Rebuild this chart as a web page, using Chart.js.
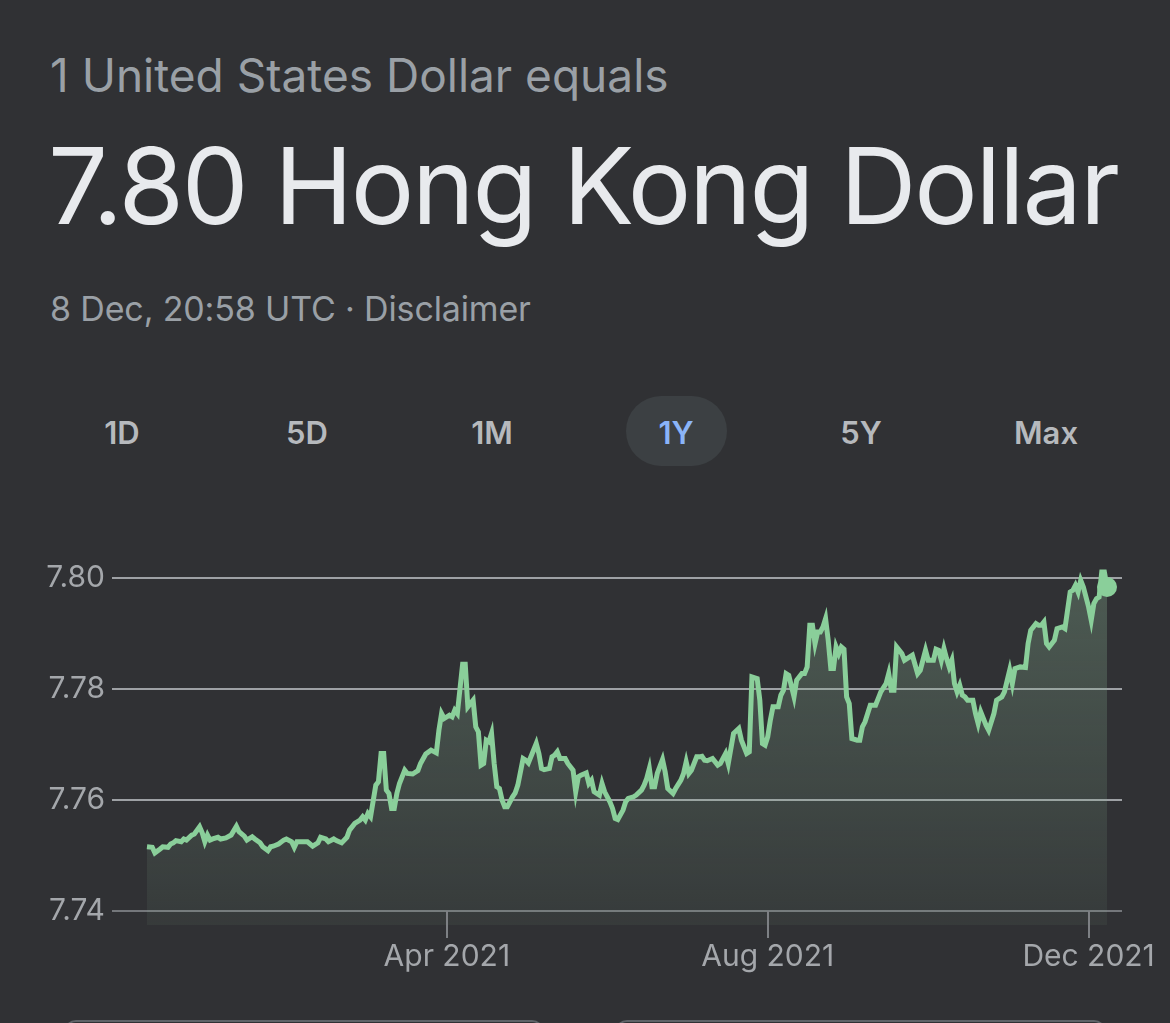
<!DOCTYPE html>
<html>
<head>
<meta charset="utf-8">
<script src="https://cdn.jsdelivr.net/npm/chart.js@4/dist/chart.umd.min.js"></script>
<style>
  html, body { margin: 0; padding: 0; background: #303134; }
  body { width: 1170px; height: 1023px; position: relative; overflow: hidden; font-family: Inter, "Liberation Sans", Arial, sans-serif; }
  .t { position: absolute; white-space: nowrap; line-height: 1; }
  #sub { left: 50px; top: 52px; font-size: 46px; color: #9aa0a6; }
  #big { left: 48px; top: 133px; font-size: 106px; color: #e8eaed; letter-spacing: -2.2px; }
  #time { left: 50px; top: 292px; font-size: 34px; color: #9aa0a6; letter-spacing: -0.15px; }
  .tab { position: absolute; top: 417px; width: 140px; margin-left: -70px; text-align: center; font-size: 31px; font-weight: 600; color: #b6b9bd; line-height: 1; }
  #pill { position: absolute; left: 626px; top: 396px; width: 101px; height: 70px; border-radius: 35px; background: #3c4043; }
  #chartWrap { position: absolute; left: 0; top: 540px; width: 1170px; height: 460px; }
  .box { position: absolute; top: 1020px; height: 60px; border: 2px solid #5f6368; border-radius: 12px; }
</style>
</head>
<body>
<div class="t" id="sub">1 United States Dollar equals</div>
<div class="t" id="big">7.80 Hong Kong Dollar</div>
<div class="t" id="time">8 Dec, 20:58 UTC · Disclaimer</div>
<div id="pill"></div>
<div id="tabs"></div>
<div id="chartWrap"><canvas id="c" width="1170" height="460"></canvas></div>
<div class="box" style="left:64px;width:476px;"></div>
<div class="box" style="left:615px;width:487px;"></div>
<script>
// ---- data (USD -> HKD, 1 year ending 8 Dec 2021) ----
const startDate = '2020-12-08';           // day 0
const rangeTabs = ['1D', '5D', '1M', '1Y', '5Y', 'Max'];
const activeTab = '1Y';
const tickDates = ['2021-04-01', '2021-08-01', '2021-12-01'];
const tickLabels = ['Apr 2021', 'Aug 2021', 'Dec 2021'];
const yTicks = [7.74, 7.76, 7.78, 7.80];

// days since startDate
const dayOffsets = [
  0,2,3,5,6,8,9,10,11,13,
  14,15,17,18,20,21,22,23,24,25,
  27,28,30,32,34,35,37,38,40,41,
  43,44,46,47,48,50,52,53,55,56,
  57,59,61,63,65,66,68,69,71,72,
  74,76,77,79,81,82,83,84,85,87,
  88,89,90,91,92,93,94,95,96,98,
  99,101,103,104,106,108,110,111,112,113,
  115,116,117,118,120,121,122,123,124,125,
  126,127,128,129,130,131,132,133,134,135,
  136,137,139,140,141,143,144,145,148,149,
  150,151,153,154,155,156,157,159,160,162,
  163,164,165,167,168,169,170,172,173,174,
  176,177,178,179,181,182,183,185,186,188,
  189,190,191,192,193,194,196,197,198,200,
  201,203,204,205,206,207,209,210,211,212,
  213,215,217,218,220,221,223,225,226,228,
  229,230,232,233,234,235,236,237,238,240,
  241,242,243,244,246,247,249,250,251,252,
  253,254,255,256,257,258,259,260,261,262,
  263,264,265,266,267,268,270,271,272,273,
  274,275,277,278,279,281,282,283,284,285,
  287,288,290,291,293,294,296,297,299,300,
  301,302,303,304,305,306,307,308,309,310,
  311,312,314,315,316,317,319,320,322,323,
  325,326,328,329,330,332,334,335,336,338,
  339,340,341,342,343,345,346,348,349,351,
  352,353,354,355,356,358,359,360,361,362,
  363,364,365
];
const rates = [
  7.7516,7.7515,7.7505,7.7512,7.7516,7.7515,7.7521,7.7523,7.7527,7.7525,
  7.7530,7.7528,7.7537,7.7539,7.7552,7.7541,7.7525,7.7537,7.7528,7.7530,
  7.7533,7.7530,7.7532,7.7537,7.7553,7.7543,7.7535,7.7528,7.7534,7.7530,
  7.7523,7.7516,7.7509,7.7516,7.7517,7.7521,7.7528,7.7530,7.7525,7.7515,
  7.7525,7.7525,7.7525,7.7517,7.7523,7.7533,7.7530,7.7525,7.7530,7.7527,
  7.7523,7.7533,7.7546,7.7558,7.7564,7.7570,7.7564,7.7576,7.7570,7.7627,
  7.7633,7.7684,7.7684,7.7618,7.7612,7.7585,7.7585,7.7612,7.7630,7.7654,
  7.7648,7.7647,7.7653,7.7666,7.7683,7.7690,7.7685,7.7726,7.7756,7.7747,
  7.7753,7.7750,7.7762,7.7756,7.7845,7.7845,7.7768,7.7774,7.7780,7.7732,
  7.7723,7.7663,7.7666,7.7708,7.7705,7.7720,7.7666,7.7624,7.7621,7.7600,
  7.7588,7.7588,7.7606,7.7613,7.7627,7.7675,7.7672,7.7667,7.7702,7.7684,
  7.7657,7.7655,7.7657,7.7678,7.7681,7.7687,7.7675,7.7675,7.7666,7.7654,
  7.7615,7.7642,7.7645,7.7649,7.7630,7.7636,7.7615,7.7609,7.7630,7.7615,
  7.7597,7.7585,7.7567,7.7565,7.7582,7.7597,7.7603,7.7606,7.7609,7.7618,
  7.7627,7.7639,7.7657,7.7624,7.7624,7.7648,7.7673,7.7651,7.7621,7.7612,
  7.7621,7.7636,7.7648,7.7669,7.7648,7.7654,7.7678,7.7678,7.7679,7.7672,
  7.7671,7.7675,7.7663,7.7666,7.7684,7.7666,7.7720,7.7729,7.7708,7.7684,
  7.7687,7.7822,7.7819,7.7780,7.7702,7.7699,7.7714,7.7744,7.7768,7.7768,
  7.7789,7.7798,7.7828,7.7825,7.7786,7.7816,7.7828,7.7828,7.7840,7.7915,
  7.7915,7.7882,7.7903,7.7903,7.7912,7.7927,7.7888,7.7837,7.7837,7.7876,
  7.7864,7.7876,7.7872,7.7786,7.7774,7.7711,7.7708,7.7708,7.7732,7.7741,
  7.7756,7.7771,7.7771,7.7783,7.7795,7.7810,7.7828,7.7798,7.7798,7.7876,
  7.7864,7.7852,7.7858,7.7861,7.7828,7.7834,7.7870,7.7852,7.7852,7.7872,
  7.7870,7.7852,7.7873,7.7855,7.7840,7.7852,7.7810,7.7795,7.7807,7.7789,
  7.7786,7.7780,7.7780,7.7756,7.7738,7.7759,7.7735,7.7726,7.7756,7.7780,
  7.7786,7.7795,7.7834,7.7810,7.7837,7.7840,7.7839,7.7882,7.7906,7.7918,
  7.7915,7.7915,7.7921,7.7882,7.7876,7.7888,7.7909,7.7912,7.7909,7.7975,
  7.7978,7.7987,7.7975,7.7996,7.7984,7.7948,7.7924,7.7954,7.7963,7.7966,
  7.8011,7.8011,7.7984
];

// ---- tabs ----
const tabCenters = [122, 307, 492, 676, 861, 1046];
const tabsEl = document.getElementById('tabs');
rangeTabs.forEach((t, i) => {
  const d = document.createElement('div');
  d.className = 'tab';
  d.style.left = tabCenters[i] + 'px';
  d.textContent = t;
  if (t === activeTab) d.style.color = '#8ab4f8';
  tabsEl.appendChild(d);
});

// ---- chart ----
const DAY = 86400000;
const t0 = Date.parse(startDate + 'T00:00:00Z');
const tickDays = tickDates.map(s => Math.round((Date.parse(s + 'T00:00:00Z') - t0) / DAY));
const points = dayOffsets.map((d, i) => ({ x: d, y: rates[i] }));
const lastIdx = points.length - 1;

const LINE = '#8acf9a';
const GRID = '#9ea1a5';
const TICKCOL = '#a4a7ab';

const innerTicks = {
  id: 'innerTicks',
  afterDatasetsDraw(chart) {
    const { ctx, chartArea, scales } = chart;
    const yTop = scales.y.getPixelForValue(yTicks[0]);
    ctx.save();
    ctx.strokeStyle = '#7d8084';
    ctx.lineWidth = 2;
    tickDays.forEach(d => {
      const x = Math.round(scales.x.getPixelForValue(d));
      ctx.beginPath();
      ctx.moveTo(x, yTop);
      ctx.lineTo(x, chartArea.bottom);
      ctx.stroke();
    });
    ctx.restore();
  }
};

new Chart(document.getElementById('c'), {
  type: 'line',
  data: {
    datasets: [{
      data: points,
      borderColor: LINE,
      borderWidth: 5,
      borderJoinStyle: 'miter',
      tension: 0,
      fill: 'start',
      backgroundColor: (c) => {
        const a = c.chart.chartArea;
        if (!a) return 'rgba(135,169,140,0.2)';
        const g = c.chart.ctx.createLinearGradient(0, a.top, 0, a.bottom);
        g.addColorStop(0, 'rgba(135,175,145,0.34)');
        g.addColorStop(1, 'rgba(135,175,145,0.08)');
        return g;
      },
      pointRadius: (c) => c.dataIndex === lastIdx ? 10 : 0,
      pointBackgroundColor: LINE,
      pointBorderWidth: 0,
      pointHoverRadius: 0,
      clip: false
    }]
  },
  options: {
    responsive: false,
    animation: false,
    events: [],
    layout: { padding: { top: 27, right: 48, left: 0, bottom: 0 } },
    plugins: { legend: { display: false }, tooltip: { enabled: false } },
    scales: {
      x: {
        type: 'linear',
        min: -13.3,
        max: 370.7,
        afterBuildTicks: (s) => { s.ticks = tickDays.map(v => ({ value: v })); },
        afterFit: (s) => { s.height = 75; },
        border: { display: false },
        grid: { drawOnChartArea: false, drawTicks: true, tickLength: 13, color: '#7d8084', lineWidth: 2 },
        ticks: {
          autoSkip: false, maxRotation: 0, padding: 1,
          color: TICKCOL,
          font: { family: 'Inter', size: 30 },
          callback: (v) => tickLabels[tickDays.indexOf(v)]
        }
      },
      y: {
        min: 7.7375,
        max: 7.802,
        afterBuildTicks: (s) => { s.ticks = yTicks.map(v => ({ value: v })); },
        afterFit: (s) => { s.width = 112; },
        border: { display: false },
        grid: {
          drawTicks: false,
          lineWidth: 2,
          color: (c) => (c.tick && c.tick.value === yTicks[0]) ? '#74777b' : GRID
        },
        ticks: {
          padding: 7,
          color: TICKCOL,
          font: { family: 'Inter', size: 30 },
          callback: (v) => Number(v).toFixed(2)
        }
      }
    }
  },
  plugins: [innerTicks]
});
</script>
</body>
</html>
